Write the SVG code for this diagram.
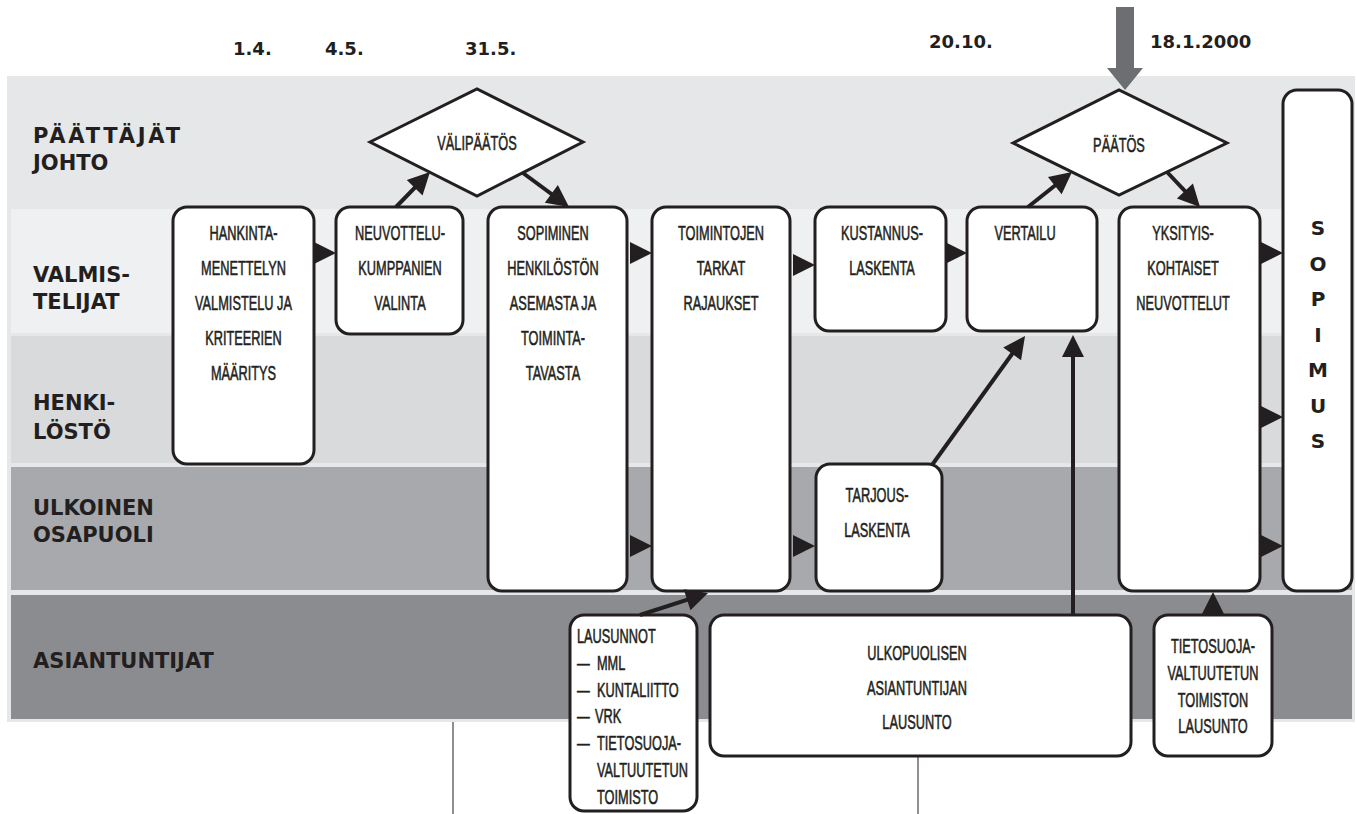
<svg xmlns="http://www.w3.org/2000/svg" width="1357" height="814" viewBox="0 0 1357 814">
<defs>
<style>
.lbl{font-family:"DejaVu Sans",sans-serif;font-weight:bold;font-size:21px;fill:#231f20}
.date{font-family:"DejaVu Sans",sans-serif;font-weight:bold;font-size:18px;fill:#231f20}
.sop{font-family:"DejaVu Sans",sans-serif;font-weight:bold;font-size:20px;fill:#231f20;text-anchor:middle}
.box{fill:#fff;stroke:#231f20;stroke-width:3}
.nt{font-family:"Liberation Sans",Arial,sans-serif;font-size:19.5px;fill:#231f20;stroke:#231f20;stroke-width:0.55;text-anchor:middle}
.ntl{font-family:"Liberation Sans",Arial,sans-serif;font-size:19.5px;fill:#231f20;stroke:#231f20;stroke-width:0.55;text-anchor:start}
.edge{stroke:#231f20;stroke-width:4;fill:none;marker-end:url(#ah)}
.head{stroke:none;fill:none;marker-end:url(#ah)}
.guide{stroke:#231f20;stroke-width:1}
</style>
<marker id="ah" markerUnits="userSpaceOnUse" markerWidth="22" markerHeight="22" refX="16" refY="11" orient="auto" overflow="visible"><path d="M0,0 L22,11 L0,22 z" fill="#231f20"/></marker>
</defs>

<g id="lanes">
<rect x="7" y="76" width="1348" height="646" fill="#e6e7e8"/>
<rect x="11" y="209" width="1341" height="124" fill="#eff0f1"/>
<rect x="11" y="336" width="1341" height="127" fill="#d9dadc"/>
<rect x="11" y="467" width="1341" height="123" fill="#a7a9ac"/>
<rect x="11" y="595" width="1341" height="124" fill="#8b8c8f"/>
</g>

<g id="lane-labels">
<text class="lbl"><tspan x="33" y="143" textLength="147" lengthAdjust="spacing">PÄÄTTÄJÄT</tspan><tspan x="33" y="170">JOHTO</tspan></text>
<text class="lbl"><tspan x="33" y="282">VALMIS-</tspan><tspan x="33" y="309">TELIJAT</tspan></text>
<text class="lbl"><tspan x="33" y="410">HENKI-</tspan><tspan x="33" y="439">LÖSTÖ</tspan></text>
<text class="lbl"><tspan x="33" y="515">ULKOINEN</tspan><tspan x="33" y="542">OSAPUOLI</tspan></text>
<text class="lbl" x="33" y="668">ASIANTUNTIJAT</text>
</g>

<g id="dates">
<text class="date" x="233" y="55">1.4.</text>
<text class="date" x="325" y="55">4.5.</text>
<text class="date" x="465" y="55">31.5.</text>
<text class="date" x="929" y="48">20.10.</text>
<text class="date" x="1150" y="48">18.1.2000</text>
</g>

<g id="guides">
<line class="guide" x1="453" y1="722" x2="453" y2="814"/>
<line class="guide" x1="918" y1="756" x2="918" y2="814"/>
</g>

<g id="big-arrow">
<polygon points="1116,7 1134,7 1134,68 1143,68 1125,90 1107,68 1116,68" fill="#6d6e71"/>
</g>

<g id="n-valipaatos">
<polygon class="box" points="370,142 477,89 583,142 477,196"/>
<text class="nt" transform="matrix(0.655 0 0 1 477 0)"><tspan x="0" y="150">VÄLIPÄÄTÖS</tspan></text>
</g>
<g id="n-paatos">
<polygon class="box" points="1013,143 1119,90 1227,143 1119,195"/>
<text class="nt" transform="matrix(0.655 0 0 1 1119 0)"><tspan x="0" y="152">PÄÄTÖS</tspan></text>
</g>

<g id="n-hankinta">
<rect class="box" x="173" y="207" width="141" height="257" rx="14"/>
<text class="nt" transform="matrix(0.655 0 0 1 243.5 0)"><tspan x="0" y="240">HANKINTA-</tspan><tspan x="0" y="275">MENETTELYN</tspan><tspan x="0" y="310">VALMISTELU JA</tspan><tspan x="0" y="345">KRITEERIEN</tspan><tspan x="0" y="380">MÄÄRITYS</tspan></text>
</g>
<g id="n-neuvottelu">
<rect class="box" x="336" y="207" width="127" height="127" rx="14"/>
<text class="nt" transform="matrix(0.655 0 0 1 400 0)"><tspan x="0" y="240">NEUVOTTELU-</tspan><tspan x="0" y="275">KUMPPANIEN</tspan><tspan x="0" y="310">VALINTA</tspan></text>
</g>
<g id="n-sopiminen">
<rect class="box" x="488" y="207" width="139" height="384" rx="14"/>
<text class="nt" transform="matrix(0.655 0 0 1 553 0)"><tspan x="0" y="240">SOPIMINEN</tspan><tspan x="0" y="275">HENKILÖSTÖN</tspan><tspan x="0" y="310">ASEMASTA JA</tspan><tspan x="0" y="345">TOIMINTA-</tspan><tspan x="0" y="380">TAVASTA</tspan></text>
</g>
<g id="n-toimintojen">
<rect class="box" x="652" y="207" width="138" height="384" rx="14"/>
<text class="nt" transform="matrix(0.655 0 0 1 721 0)"><tspan x="0" y="240">TOIMINTOJEN</tspan><tspan x="0" y="275">TARKAT</tspan><tspan x="0" y="310">RAJAUKSET</tspan></text>
</g>
<g id="n-kustannus">
<rect class="box" x="815" y="207" width="131" height="124" rx="14"/>
<text class="nt" transform="matrix(0.655 0 0 1 882 0)"><tspan x="0" y="240">KUSTANNUS-</tspan><tspan x="0" y="275">LASKENTA</tspan></text>
</g>
<g id="n-vertailu">
<rect class="box" x="967" y="207" width="130" height="124" rx="14"/>
<text class="nt" transform="matrix(0.655 0 0 1 1025 0)"><tspan x="0" y="240">VERTAILU</tspan></text>
</g>
<g id="n-yksityis">
<rect class="box" x="1119" y="207" width="141" height="384" rx="14"/>
<text class="nt" transform="matrix(0.655 0 0 1 1183 0)"><tspan x="0" y="240">YKSITYIS-</tspan><tspan x="0" y="275">KOHTAISET</tspan><tspan x="0" y="310">NEUVOTTELUT</tspan></text>
</g>
<g id="n-sopimus">
<rect class="box" x="1283" y="90" width="69" height="501" rx="14"/>
<text class="sop"><tspan x="1318" y="235">S</tspan><tspan x="1318" y="270.5">O</tspan><tspan x="1318" y="306">P</tspan><tspan x="1318" y="341.5">I</tspan><tspan x="1318" y="377">M</tspan><tspan x="1318" y="412.5">U</tspan><tspan x="1318" y="448">S</tspan></text>
</g>
<g id="n-tarjous">
<rect class="box" x="816" y="464" width="126" height="127" rx="14"/>
<text class="nt" transform="matrix(0.655 0 0 1 877 0)"><tspan x="0" y="502">TARJOUS-</tspan><tspan x="0" y="537">LASKENTA</tspan></text>
</g>
<g id="n-lausunnot">
<rect class="box" x="570" y="615" width="127" height="196" rx="14"/>
<text class="ntl" transform="matrix(0.655 0 0 1 577 0)"><tspan x="0" y="643">LAUSUNNOT</tspan><tspan x="0" y="670">—</tspan><tspan x="30.5" y="670">MML</tspan><tspan x="0" y="697">—</tspan><tspan x="30.5" y="697">KUNTALIITTO</tspan><tspan x="0" y="723">—</tspan><tspan x="27.5" y="723">VRK</tspan><tspan x="0" y="750">—</tspan><tspan x="30.5" y="750">TIETOSUOJA-</tspan><tspan x="30.5" y="777">VALTUUTETUN</tspan><tspan x="30.5" y="804">TOIMISTO</tspan></text>
</g>
<g id="n-ulkopuolisen">
<rect class="box" x="710" y="615" width="421" height="141" rx="14"/>
<text class="nt" transform="matrix(0.655 0 0 1 917 0)"><tspan x="0" y="660">ULKOPUOLISEN</tspan><tspan x="0" y="695">ASIANTUNTIJAN</tspan><tspan x="0" y="729">LAUSUNTO</tspan></text>
</g>
<g id="n-tietosuoja">
<rect class="box" x="1154" y="615" width="118" height="141" rx="14"/>
<text class="nt" transform="matrix(0.655 0 0 1 1213 0)"><tspan x="0" y="653">TIETOSUOJA-</tspan><tspan x="0" y="680">VALTUUTETUN</tspan><tspan x="0" y="707">TOIMISTON</tspan><tspan x="0" y="733">LAUSUNTO</tspan></text>
</g>

<g id="connectors">
<line class="head" x1="314" y1="253" x2="330" y2="253"/>
<line class="head" x1="627" y1="253" x2="646" y2="253"/>
<line class="head" x1="627" y1="546" x2="646" y2="546"/>
<line class="head" x1="790" y1="265" x2="809" y2="265"/>
<line class="head" x1="790" y1="546" x2="809" y2="546"/>
<line class="head" x1="946" y1="253" x2="961" y2="253"/>
<line class="head" x1="1260" y1="253" x2="1277" y2="253"/>
<line class="head" x1="1260" y1="417" x2="1277" y2="417"/>
<line class="head" x1="1260" y1="546" x2="1277" y2="546"/>
<line class="head" x1="1213" y1="615" x2="1213" y2="598"/>
<line class="edge" x1="396" y1="207" x2="425.8" y2="176.3"/>
<line class="edge" x1="523" y1="173" x2="564.2" y2="203.4"/>
<line class="edge" x1="1028" y1="207" x2="1067.3" y2="175.7"/>
<line class="edge" x1="1167" y1="172" x2="1195.9" y2="202.6"/>
<line class="edge" x1="932" y1="465" x2="1021.5" y2="340.9"/>
<line class="edge" x1="1073" y1="616" x2="1073" y2="341"/>
<line class="edge" x1="640" y1="615" x2="702.3" y2="594.8"/>
</g>
</svg>
